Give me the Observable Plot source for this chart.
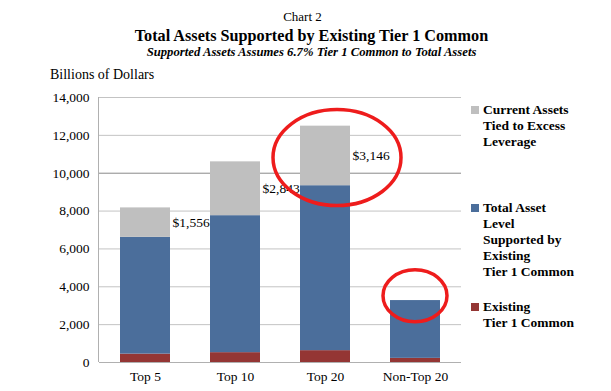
<!DOCTYPE html>
<html><head><meta charset="utf-8">
<script src="https://cdn.jsdelivr.net/npm/d3@7"></script>
<script src="https://cdn.jsdelivr.net/npm/@observablehq/plot@0.6"></script>
<style>
body{margin:0;background:#fff;font-family:"Liberation Serif","Times New Roman",serif;}
#wrap{position:relative;width:611px;height:391px;overflow:hidden;background:#fff;}
.t{position:absolute;left:0;width:611px;text-align:center;color:#000;white-space:nowrap;}
#legend{position:absolute;left:471px;top:0;font-weight:bold;font-size:13.5px;line-height:16px;color:#000;}
.li{position:absolute;left:0;white-space:nowrap;}
.sw{position:absolute;left:0;width:8px;height:8px;}
.lt{position:absolute;left:12px;}
#chart{position:absolute;left:0;top:64px;}
#ylab{position:absolute;left:50px;top:67px;font-size:14px;z-index:2;}
</style></head>
<body><div id="wrap">
<div class="t" style="top:9px;font-size:13px;left:-3px;">Chart 2</div>
<div class="t" style="top:27px;font-size:16.2px;font-weight:bold;left:6px;">Total Assets Supported by Existing Tier 1 Common</div>
<div class="t" style="top:45px;font-size:12.7px;font-weight:bold;font-style:italic;left:6px;">Supported Assets Assumes 6.7% Tier 1 Common to Total Assets</div>
<div id="chart"></div>
<div id="ylab">Billions of Dollars</div>
<div id="legend"></div>
</div>
<script>
const categories = ["Top 5", "Top 10", "Top 20", "Non-Top 20"];
const tier1Common = [443, 520, 626, 219];
const supportedAssets = [6169, 7237, 8714, 3053];
const excessLeverage = [1556, 2843, 3146, 0];
const seriesNames = ["Existing Tier 1 Common", "Total Asset Level Supported by Existing Tier 1 Common", "Current Assets Tied to Excess Leverage"];
const seriesColors = ["#943634", "#4B6E9B", "#BFBFBF"];
const yTicks = [0, 2000, 4000, 6000, 8000, 10000, 12000, 14000];

const rows = [];
categories.forEach((c, i) => {
  rows.push({cat: c, series: seriesNames[0], value: tier1Common[i]});
  rows.push({cat: c, series: seriesNames[1], value: supportedAssets[i]});
  rows.push({cat: c, series: seriesNames[2], value: excessLeverage[i]});
});
const fmt = d3.format(",");

const W = 611, H = 327;
const plot = Plot.plot({
  width: W, height: H,
  marginTop: 33, marginBottom: 29, marginLeft: 99, marginRight: 150,
  style: {fontFamily: "Liberation Serif, Times New Roman, serif", fontSize: "13.5px", color: "#000", background: "transparent"},
  x: {domain: categories, paddingInner: 0.445, paddingOuter: 0.23, label: null},
  y: {domain: [0, 14000], label: null},
  color: {domain: seriesNames, range: seriesColors},
  marks: [
    Plot.ruleY(yTicks.filter(d => d > 0 && d !== 10000), {stroke: "#c3c3c3", strokeWidth: 1}),
    Plot.ruleY([10000], {stroke: "#8a8a8a", strokeWidth: 1}),
    Plot.barY(rows, {x: "cat", y: "value", fill: "series", order: seriesNames}),
    Plot.text(rows, Plot.stackY({x: "cat", y: "value", z: "series", order: seriesNames,
      text: d => d.series === seriesNames[2] && d.value > 0 ? "$" + fmt(d.value) : null,
      textAnchor: "start", dx: 27, fontSize: 13.5, fill: "#000"})),
    Plot.axisY({ticks: yTicks, tickFormat: d => fmt(d), tickSize: 0, tickPadding: 10, label: null}),
    Plot.axisX({tickSize: 0, tickPadding: 9, label: null})
  ]
});
document.getElementById("chart").appendChild(plot);

// axis frame lines and annotation ellipses, positioned through the plot scales
const xs = plot.scale("x"), ys = plot.scale("y");
const svg = d3.select(plot);
const x0 = 99, x1 = W - 150;
svg.append("line").attr("x1", x0 - 0.5).attr("x2", x0 - 0.5).attr("y1", ys.apply(14000)).attr("y2", ys.apply(0)).attr("stroke", "#b0b0b0");
svg.append("line").attr("x1", x0).attr("x2", x1).attr("y1", ys.apply(0) + 0.5).attr("y2", ys.apply(0) + 0.5).attr("stroke", "#b0b0b0");
const bw = xs.bandwidth;
svg.append("ellipse")
  .attr("cx", xs.apply("Top 20") + bw / 2 + 12).attr("cy", ys.apply(10800))
  .attr("rx", 64).attr("ry", 48).attr("fill", "none").attr("stroke", "#ee1c1c").attr("stroke-width", 3.5);
svg.append("ellipse")
  .attr("cx", xs.apply("Non-Top 20") + bw / 2).attr("cy", ys.apply(3500))
  .attr("rx", 32).attr("ry", 26).attr("fill", "none").attr("stroke", "#ee1c1c").attr("stroke-width", 3.5);

// legend
const legendItems = [
  {color: seriesColors[2], lines: ["Current Assets", "Tied to Excess", "Leverage"], top: 102},
  {color: seriesColors[1], lines: ["Total Asset", "Level", "Supported by", "Existing", "Tier 1 Common"], top: 200},
  {color: seriesColors[0], lines: ["Existing", "Tier 1 Common"], top: 299}
];
const lg = document.getElementById("legend");
legendItems.forEach(it => {
  const d = document.createElement("div");
  d.className = "li"; d.style.top = it.top + "px";
  d.innerHTML = `<div class="sw" style="background:${it.color};top:4px"></div><div class="lt">${it.lines.join("<br>")}</div>`;
  lg.appendChild(d);
});
</script>
</body></html>
